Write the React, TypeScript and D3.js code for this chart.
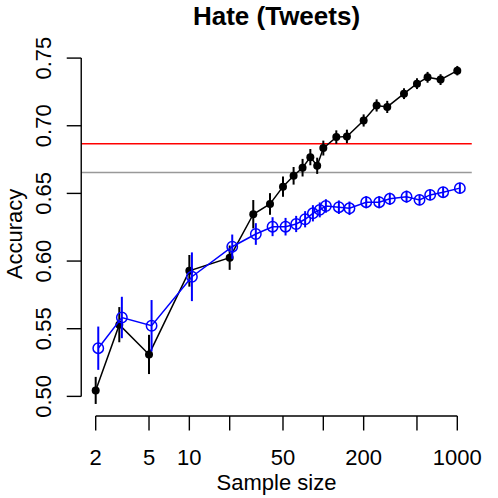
import React from "react";
import * as d3 from "d3";

const sampleSizes = [2, 3, 5, 10, 20, 30, 40, 50, 60, 70, 80, 90, 100, 125, 150, 200, 250, 300, 400, 500, 600, 750, 1000];
const blackAcc = [0.5044, 0.553, 0.531, 0.5928, 0.6025, 0.6346, 0.6422, 0.655, 0.663, 0.669, 0.6768, 0.6704, 0.6835, 0.6916, 0.6921, 0.7039, 0.715, 0.7139, 0.7237, 0.7311, 0.7358, 0.7341, 0.7407];
const blackErr = [0.010, 0.013, 0.0145, 0.0117, 0.009, 0.0105, 0.008, 0.0075, 0.0065, 0.0065, 0.006, 0.006, 0.0055, 0.005, 0.005, 0.0045, 0.0045, 0.0045, 0.004, 0.004, 0.004, 0.004, 0.0035];
const blueAcc = [0.5356, 0.5583, 0.5522, 0.5884, 0.6106, 0.62, 0.6254, 0.6254, 0.6274, 0.6309, 0.6353, 0.6378, 0.6407, 0.6398, 0.639, 0.6435, 0.6435, 0.646, 0.6476, 0.6452, 0.6489, 0.6509, 0.6539];
const blueErr = [0.016, 0.0153, 0.019, 0.018, 0.009, 0.008, 0.007, 0.0065, 0.006, 0.006, 0.006, 0.0055, 0.005, 0.005, 0.005, 0.0045, 0.0045, 0.0045, 0.0045, 0.004, 0.004, 0.004, 0.004];
const redLine = 0.6867;
const grayLine = 0.6654;
const xTicks = [2, 5, 10, 20, 50, 100, 200, 500, 1000];
const xTickLabels = ["2", "5", "10", "", "50", "", "200", "", "1000"];
const yTicks = [0.5, 0.55, 0.6, 0.65, 0.7, 0.75];
const yTickLabels = ["0.50", "0.55", "0.60", "0.65", "0.70", "0.75"];
const blueDodge = 1.045;

const W = 498;
const H = 498;
const font = "'Liberation Sans', Arial, Helvetica, sans-serif";

export default function App() {
  const x = d3.scaleLog().domain([2, 1000]).range([95.7, 457.3]);
  const span = 457.3 - 95.7;
  const plotL = 95.7 - 0.04 * span;
  const plotR = 457.3 + 0.04 * span;
  const y = d3.scaleLinear().domain([0.4855, 0.7545]).range([416, 52]);
  const axisY = 416;
  const axisX = plotL;
  const cx = (plotL + plotR) / 2;

  const blackPts = sampleSizes.map((n, i) => ({ x: x(n), y: y(blackAcc[i]), lo: y(blackAcc[i] - blackErr[i]), hi: y(blackAcc[i] + blackErr[i]) }));
  const bluePts = sampleSizes.map((n, i) => ({ x: x(n * blueDodge), y: y(blueAcc[i]), lo: y(blueAcc[i] - blueErr[i]), hi: y(blueAcc[i] + blueErr[i]) }));
  const line = d3.line<{ x: number; y: number }>().x((d) => d.x).y((d) => d.y);

  return (
    <svg width={W} height={H} style={{ position: "absolute", left: 0, top: 0, background: "#fff" }} fontFamily={font}>
      <rect x={0} y={0} width={W} height={H} fill="#fff" />
      <text x={cx} y={25} textAnchor="middle" fontSize={26} fontWeight="bold">Hate (Tweets)</text>

      {/* reference lines */}
      <line x1={plotL} x2={plotR} y1={y(redLine)} y2={y(redLine)} stroke="#ff0000" strokeWidth={1.5} />
      <line x1={plotL} x2={plotR} y1={y(grayLine)} y2={y(grayLine)} stroke="#999999" strokeWidth={1.5} />

      {/* black series */}
      <path d={line(blackPts) || ""} fill="none" stroke="#000" strokeWidth={1.5} />
      {blackPts.map((p, i) => (
        <g key={"b" + i}>
          <line x1={p.x} x2={p.x} y1={p.lo} y2={p.hi} stroke="#000" strokeWidth={2} />
          <circle cx={p.x} cy={p.y} r={4} fill="#000" />
        </g>
      ))}

      {/* blue series */}
      <path d={line(bluePts) || ""} fill="none" stroke="#0000ff" strokeWidth={1.5} />
      {bluePts.map((p, i) => (
        <g key={"u" + i}>
          <line x1={p.x} x2={p.x} y1={p.lo} y2={p.hi} stroke="#0000ff" strokeWidth={2} />
          <circle cx={p.x} cy={p.y} r={5.2} fill="none" stroke="#0000ff" strokeWidth={1.5} />
        </g>
      ))}

      {/* x axis */}
      <line x1={x(xTicks[0])} x2={x(xTicks[xTicks.length - 1])} y1={axisY} y2={axisY} stroke="#000" strokeWidth={1.4} />
      {xTicks.map((t, i) => (
        <g key={"xt" + i}>
          <line x1={x(t)} x2={x(t)} y1={axisY} y2={axisY + 14.5} stroke="#000" strokeWidth={1.4} />
          {xTickLabels[i] && (
            <text x={x(t)} y={465} textAnchor="middle" fontSize={22}>{xTickLabels[i]}</text>
          )}
        </g>
      ))}
      <text x={cx} y={490} textAnchor="middle" fontSize={22}>Sample size</text>

      {/* y axis */}
      <line x1={axisX} x2={axisX} y1={y(yTicks[0])} y2={y(yTicks[yTicks.length - 1])} stroke="#000" strokeWidth={1.4} />
      {yTicks.map((t, i) => (
        <g key={"yt" + i}>
          <line x1={axisX - 14.5} x2={axisX} y1={y(t)} y2={y(t)} stroke="#000" strokeWidth={1.4} />
          <text transform={`translate(51,${y(t)}) rotate(-90)`} textAnchor="middle" fontSize={22}>{yTickLabels[i]}</text>
        </g>
      ))}
      <text transform={`translate(22,${(52 + 416) / 2}) rotate(-90)`} textAnchor="middle" fontSize={22}>Accuracy</text>
    </svg>
  );
}
